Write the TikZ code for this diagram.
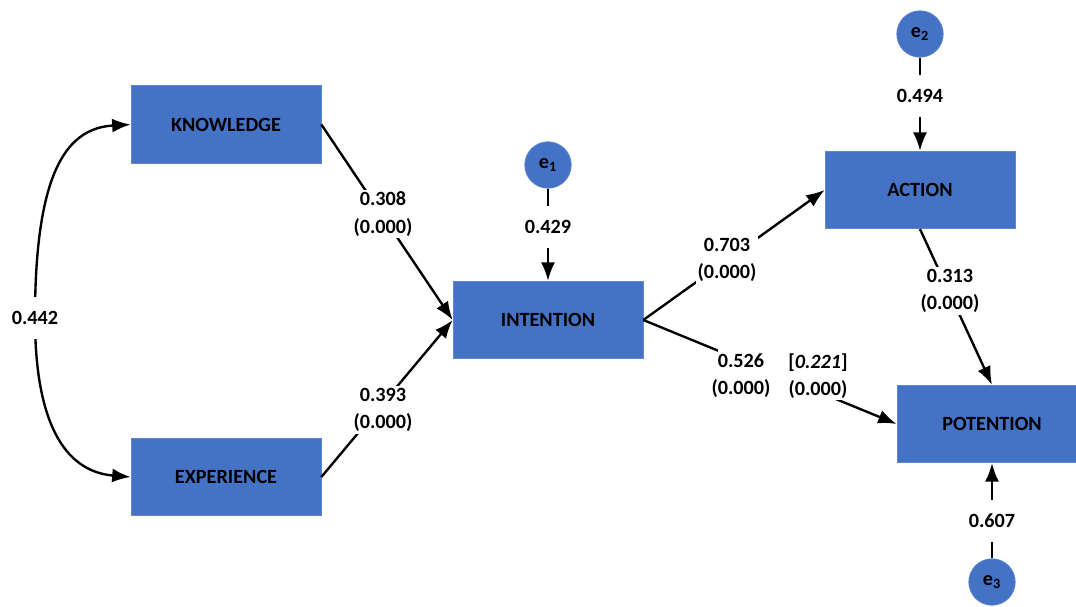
\documentclass[tikz,border=0pt]{standalone}
\usepackage{fontspec}
\setmainfont{Carlito}
\usetikzlibrary{arrows.meta}
\definecolor{boxblue}{HTML}{4472C4}
\begin{document}
\begin{tikzpicture}[x=0.02cm,y=-0.02cm,
  every node/.style={font=\fontsize{11.5}{15.5}\selectfont\bfseries},
  latent/.style={rectangle,fill=boxblue,draw=boxblue!85!white,line width=0.4pt,minimum width=3.8cm,minimum height=1.55cm,inner sep=0pt},
  err/.style={circle,fill=boxblue,draw=boxblue!85!white,line width=0.4pt,minimum size=0.93cm,inner sep=0pt},
  lbl/.style={fill=white,align=center,inner xsep=1pt,inner ysep=1pt},
  elbl/.style={fill=white,inner xsep=1pt,inner ysep=8pt},
  conn/.style={line width=1.35pt},
  arr/.style={conn,-{Latex[length=0.37cm,width=0.28cm]}},
  darr/.style={conn,{Latex[length=0.37cm,width=0.28cm]}-{Latex[length=0.37cm,width=0.28cm]}}
]
\useasboundingbox (0,0) rectangle (1076,606);
% boxes
\node[latent] (K) at (226,124.5) {KNOWLEDGE};
\node[latent] (E) at (226,477) {EXPERIENCE};
\node[latent] (I) at (548,320) {INTENTION};
\node[latent] (A) at (920,190) {ACTION};
\node[latent] (P) at (992,424) {POTENTION};
\node[err] (e1) at (548,165) {e\textsubscript{1}};
\node[err] (e2) at (920,34) {e\textsubscript{2}};
\node[err] (e3) at (992,582) {e\textsubscript{3}};
% connectors
\coordinate (m) at (35,318);
\draw[darr] (K.west) .. controls (70,128) and (35,165) .. (m) .. controls (35,432) and (70,472) .. (E.west);
\draw[arr] (K.east) -- (I.west);
\draw[arr] (E.east) -- (I.west);
\draw[arr] (I.east) -- (A.west);
\draw[arr] (I.east) -- (P.west);
\draw[arr] (A.south) -- (P.north);
\draw[arr] (e1.south) -- (I.north);
\draw[arr] (e2.south) -- (A.north);
\draw[arr] (e3.north) -- (P.south);
% labels
\node[lbl,inner ysep=8pt] (l442) at (m) {0.442};
\node[lbl] (l308) at (383,214) {0.308\\(0.000)};
\node[lbl] (l393) at (383,410) {0.393\\(0.000)};
\node[lbl] (l703) at (727,260) {0.703\\(0.000)};
\fill[white] (718,348) rectangle (836,399);
\node[lbl] (l526) at (741,376) {0.526\\(0.000)};
\node[lbl] (l221) at (818,376) {[\textit{0.221}]\\(0.000)};
\node[lbl] (l313) at (950,291) {0.313\\(0.000)};
\node[elbl] (l429) at (548,227) {0.429};
\node[elbl] (l494) at (920,96) {0.494};
\node[elbl] (l607) at (992,521) {0.607};
\end{tikzpicture}
\end{document}
